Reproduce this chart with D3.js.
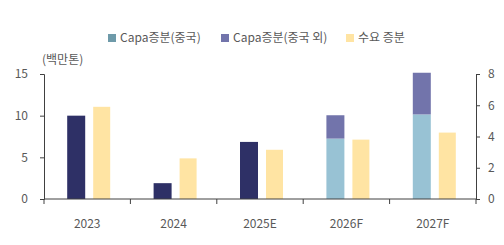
<!DOCTYPE html>
<html>
<head>
<meta charset="utf-8">
<script src="https://cdn.jsdelivr.net/npm/d3@7/dist/d3.min.js"></script>
<style>
  html, body { margin: 0; padding: 0; background: #fff; }
  svg text { font-family: "Noto Sans CJK KR", "Noto Sans", sans-serif; }
</style>
</head>
<body>
<div id="chart"></div>
<script>
// ── Data ──────────────────────────────────────────────────────────────
const YEARS        = ['2023', '2024', '2025E', '2026F', '2027F'];
const CAPA_TOTAL   = [10.0, 1.9, 6.85, null, null];   // 전체 Capa증분 (단색 막대)
const CAPA_CHINA   = [null, null, null, 7.25, 10.15];  // Capa증분(중국)
const CAPA_OTHER   = [null, null, null, 2.8, 5.0];     // Capa증분(중국 외)
const DEMAND       = [5.9, 2.6, 3.15, 3.8, 4.25];      // 수요 증분 (우축)
const LEFT_TICKS   = [0, 5, 10, 15];
const RIGHT_TICKS  = [0, 2, 4, 6, 8];
const LEGEND       = ['Capa증분(중국)', 'Capa증분(중국 외)', '수요 증분'];

const COLORS = {
  total:  '#2e3066',
  china:  '#98c2d4',
  other:  '#7274ab',
  demand: '#ffe4a3',
  legendChina: '#6e9aa9',
  axis:   '#404040',
  text:   '#595959'
};

// ── Layout ────────────────────────────────────────────────────────────
const W = 504, H = 245;
const X0 = 44, X1 = 476, Y0 = 199, Y1 = 74;

const svg = d3.select('#chart').append('svg')
  .attr('width', W).attr('height', H);

const x = d3.scaleBand().domain(YEARS).range([X0, X1]).paddingInner(0).paddingOuter(0);
const yL = d3.scaleLinear().domain([0, 15]).range([Y0, Y1]);
const yR = d3.scaleLinear().domain([0, 8]).range([Y0, Y1]);

const BAR_W = 18, GAP = 8;
const capaX = d => x(d) + x.bandwidth() / 2 - (BAR_W + GAP / 2) + 2;
const demX  = d => x(d) + x.bandwidth() / 2 + GAP / 2 + 2;

// ── Bars ──────────────────────────────────────────────────────────────
const g = svg.append('g');

YEARS.forEach(function (yr, i) {
  if (CAPA_TOTAL[i] != null) {
    g.append('rect')
      .attr('x', capaX(yr)).attr('width', BAR_W)
      .attr('y', yL(CAPA_TOTAL[i])).attr('height', Y0 - yL(CAPA_TOTAL[i]))
      .attr('fill', COLORS.total);
  }
  if (CAPA_CHINA[i] != null) {
    g.append('rect')
      .attr('x', capaX(yr)).attr('width', BAR_W)
      .attr('y', yL(CAPA_CHINA[i])).attr('height', Y0 - yL(CAPA_CHINA[i]))
      .attr('fill', COLORS.china);
    const top = CAPA_CHINA[i] + CAPA_OTHER[i];
    g.append('rect')
      .attr('x', capaX(yr)).attr('width', BAR_W)
      .attr('y', yL(top)).attr('height', yL(CAPA_CHINA[i]) - yL(top))
      .attr('fill', COLORS.other);
  }
  g.append('rect')
    .attr('x', demX(yr)).attr('width', BAR_W - 1)
    .attr('y', yR(DEMAND[i])).attr('height', Y0 - yR(DEMAND[i]))
    .attr('fill', COLORS.demand);
});

// ── Axes ──────────────────────────────────────────────────────────────
function styleAxis(sel) {
  sel.selectAll('path, line').attr('stroke', COLORS.axis);
  sel.selectAll('text').attr('fill', COLORS.text).attr('font-size', '12px');
}

svg.append('g')
  .attr('transform', 'translate(' + X0 + ',0)')
  .call(d3.axisLeft(yL).tickValues(LEFT_TICKS).tickSize(4).tickSizeOuter(4).tickPadding(12))
  .call(styleAxis);

svg.append('g')
  .attr('transform', 'translate(' + X1 + ',0)')
  .call(d3.axisRight(yR).tickValues(RIGHT_TICKS).tickSize(4).tickSizeOuter(4).tickPadding(8))
  .call(styleAxis);

// x axis: ticks on category boundaries
const xAxis = svg.append('g').attr('transform', 'translate(0,' + Y0 + ')');
xAxis.append('line')
  .attr('x1', X0).attr('x2', X1)
  .attr('stroke', COLORS.axis);
xAxis.selectAll('line.tick')
  .data(YEARS.concat(['end']))
  .join('line')
  .attr('class', 'tick')
  .attr('x1', (d, i) => X0 + i * x.bandwidth())
  .attr('x2', (d, i) => X0 + i * x.bandwidth())
  .attr('y1', 0).attr('y2', 5)
  .attr('stroke', COLORS.axis);
xAxis.selectAll('text')
  .data(YEARS)
  .join('text')
  .attr('x', d => x(d) + x.bandwidth() / 2)
  .attr('y', 29)
  .attr('text-anchor', 'middle')
  .attr('font-size', '12px')
  .attr('fill', COLORS.text)
  .text(d => d);

// unit label
svg.append('text')
  .attr('x', 42).attr('y', 64)
  .attr('font-size', '12px')
  .attr('fill', COLORS.text)
  .text('(백만톤)');

// ── Legend ────────────────────────────────────────────────────────────
const legendColors = [COLORS.legendChina, COLORS.other, COLORS.demand];
const legendX = [108, 221, 346];
const lg = svg.append('g');
LEGEND.forEach(function (name, i) {
  lg.append('rect')
    .attr('x', legendX[i]).attr('y', 34)
    .attr('width', 8).attr('height', 8)
    .attr('fill', legendColors[i]);
  lg.append('text')
    .attr('x', legendX[i] + 12).attr('y', 42)
    .attr('font-size', '12px')
    .attr('fill', COLORS.text)
    .text(name);
});
</script>
</body>
</html>
